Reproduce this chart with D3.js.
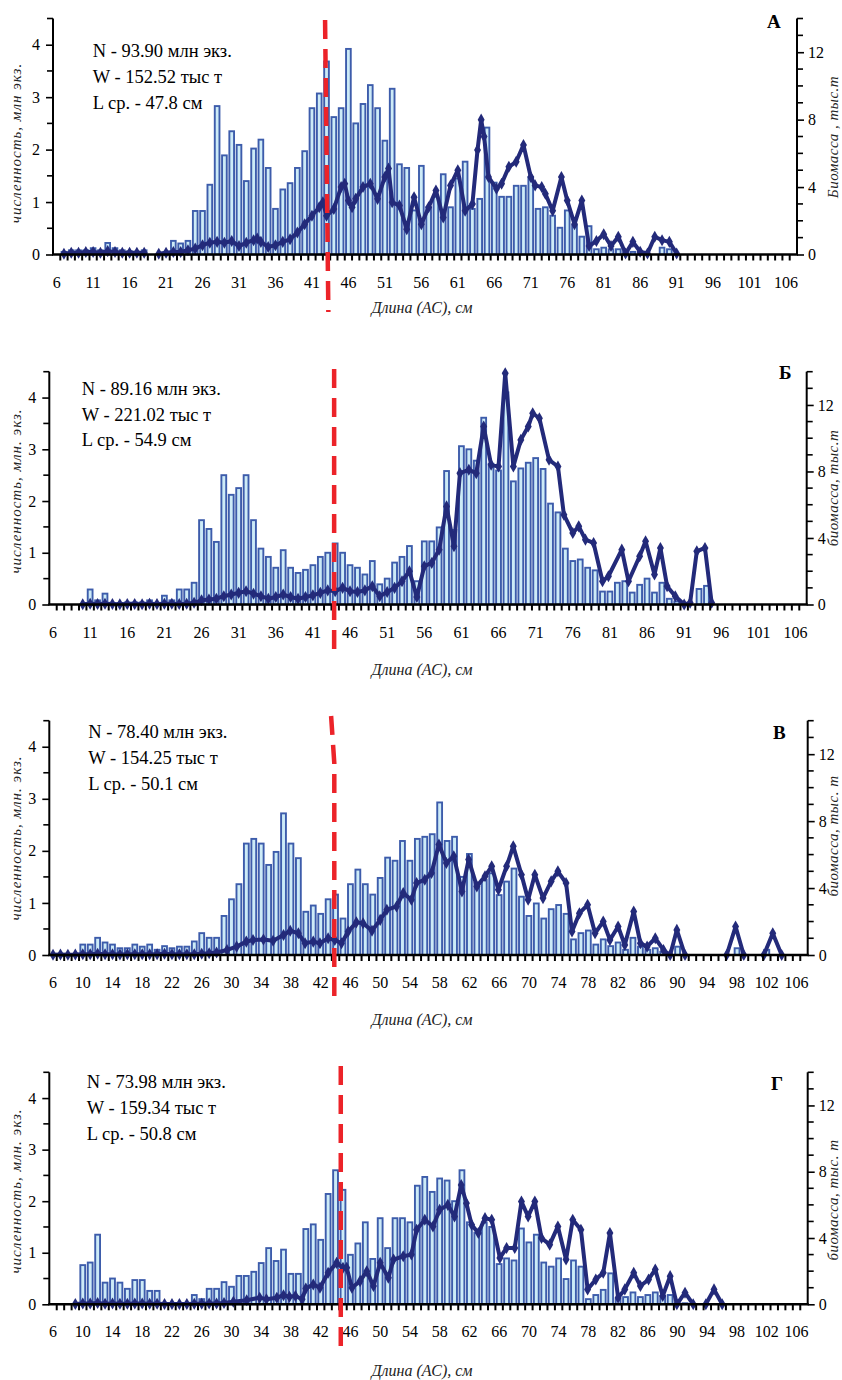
<!DOCTYPE html>
<html><head><meta charset="utf-8">
<script src="https://cdn.jsdelivr.net/npm/d3@7"></script>
<style>body{margin:0;background:#fff}svg{display:block}</style>
</head><body>
<svg id="c" width="842" height="1380"></svg>
<script>
// ---------- DATA ----------
const categories = [6,7,8,9,10,11,12,13,14,15,16,17,18,19,20,21,22,23,24,25,26,27,28,29,30,31,32,33,34,35,36,37,38,39,40,41,42,43,44,45,46,47,48,49,50,51,52,53,54,55,56,57,58,59,60,61,62,63,64,65,66,67,68,69,70,71,72,73,74,75,76,77,78,79,80,81,82,83,84,85,86,87,88,89,90,91,92,93,94,95,96,97,98,99,100,101,102,103,104,105,106,107];
const tickLabels5 = [6,11,16,21,26,31,36,41,46,51,56,61,66,71,76,81,86,91,96,101,106];
const tickLabels4 = [6,10,14,18,22,26,30,34,38,42,46,50,54,58,62,66,70,74,78,82,86,90,94,98,102,106];
const leftTicks = [0,1,2,3,4];
const leftMinor = [0.5,1.5,2.5,3.5,4.5];
const rightTicks = [0,4,8,12];
const rightMinor = [1,2,3,5,6,7,9,10,11,13,14];

const countA = [0,0.05,0.08,0.08,0.08,0.12,0.08,0.22,0.12,0.08,
 0.06,0.05,0.08,0,0,0.04,0.26,0.21,0.26,0.83,
 0.83,1.33,2.83,1.89,2.35,2.09,1.4,2.02,2.19,1.65,
 0.87,1.24,1.36,1.65,1.97,2.79,3.07,3.68,2.62,2.79,
 3.92,2.5,2.87,3.23,2.79,2.17,3.16,1.72,1.65,0.84,
 1.69,0.9,1.1,1.53,0.9,1.45,1.77,0.87,1.06,2.42,
 1.37,1.1,1.1,1.31,1.31,1.47,0.87,0.9,0.74,0.51,
 0.84,0.55,0.34,0.54,0.1,0.13,0.1,0.1,0.05,0.05,
 0.03,0,0,0.13,0.1,0,0,0,0,0,
 0,0,0,0,0,0,0,0,0,0,
 0,0];
const countB = [0,0,0,0,0,0.29,0.08,0.21,0.03,0.03,
 0.04,0.04,0.04,0.08,0.03,0.17,0.08,0.29,0.29,0.42,
 1.63,1.46,1.21,2.5,2.12,2.25,2.5,1.63,1.08,0.92,
 0.71,1.05,0.71,0.61,0.67,0.76,0.92,1.0,1.18,1.0,
 0.76,0.71,0.58,0.84,0.39,0.5,0.81,0.92,1.13,0.45,
 1.22,1.22,1.49,2.58,1.44,3.06,3.0,2.78,3.61,2.72,
 2.59,4.1,2.38,2.63,2.74,2.83,2.62,1.95,1.78,1.08,
 0.84,0.87,0.71,0.66,0.25,0.25,0.42,0.45,0.23,0.38,
 0.5,0.23,0.42,0.11,0.06,0.02,0,0.3,0.36,0,
 0,0,0,0,0,0,0,0,0,0,
 0,0];
const countC = [0,0,0,0,0.2,0.2,0.33,0.24,0.2,0.13,
 0.13,0.2,0.16,0.2,0.1,0.17,0.13,0.16,0.16,0.26,
 0.42,0.33,0.33,0.75,1.07,1.36,2.14,2.23,2.14,1.73,
 1.98,2.72,2.14,1.86,0.83,0.95,0.79,1.07,1.16,0.7,
 1.36,1.64,1.36,1.16,1.48,1.87,1.81,2.19,1.81,2.23,
 2.27,2.32,2.93,2.19,2.27,1.5,1.94,1.38,1.44,1.57,
 1.15,1.41,1.66,1.12,0.75,0.99,0.7,0.88,0.96,0.79,
 0.3,0.42,0.47,0.2,0.3,0.17,0.24,0.1,0.33,0.16,
 0.1,0.13,0.06,0,0.16,0,0,0,0,0,
 0,0,0.13,0,0,0,0.1,0,0,0,
 0,0];
const countD = [0,0,0,0,0.76,0.81,1.35,0.42,0.5,0.42,
 0.3,0.47,0.47,0.26,0.26,0.02,0.02,0.02,0.02,0.18,
 0.1,0.3,0.3,0.43,0.34,0.55,0.55,0.63,0.8,1.09,
 0.84,1.06,0.59,0.59,1.46,1.55,1.25,2.14,2.6,2.22,
 0.96,1.18,1.59,0.88,1.67,1.09,1.67,1.67,1.59,2.3,
 2.47,2.18,2.44,2.4,2.0,2.6,1.59,1.39,1.59,1.5,
 0.78,0.89,0.85,1.47,1.2,1.35,0.81,0.73,0.89,0.49,
 0.85,0.73,0.1,0.18,0.28,0.6,0.1,0.14,0.23,0.14,
 0.18,0.23,0.16,0.18,0.02,0.02,0,0,0,0,
 0,0,0,0,0,0,0,0,0,0,
 0,0];

// biomass: [length, thousand t]; null = gap
const biomassA = [[7,0.05],[8,0.1],[9,0.1],[10,0.15],[11,0.15],[12,0.1],[13,0.2],[14,0.15],[15,0.1],[16,0.1],[17,0.1],[18,0.1],[19,null],
 [20,0.05],[21,0.1],[22,0.15],[23,0.15],[24,0.25],[25,0.35],[26,0.55],[27,0.7],[28,0.75],[29,0.7],[30,0.8],[31,0.5],[32,0.7],[33,0.85],[33.5,0.95],[34,0.75],[35,0.45],[36,0.55],[37,0.75],[38,0.9],[39,1.3],[40,1.8],[41,2.3],[42,2.8],[42.5,3.1],[43,2.3],[44,2.7],[45,4.0],[45.5,4.2],[46,3.2],[46.5,2.8],[47,3.3],[48,4.0],[49,4.2],[50,3.3],[51,4.6],[51.5,5.1],[52,3.1],[53,2.9],[54,1.5],[55,3.4],[56,1.8],[57,2.8],[58,3.8],[59,2.2],[60,4.1],[61,5.0],[62,2.6],[63,3.0],[63.7,6.2],[64.2,8.0],[64.6,7.0],[65.2,4.6],[66.3,3.9],[67,4.2],[68,5.2],[69,5.5],[70,6.5],[71,4.6],[71.6,4.1],[72.5,4.0],[73,3.6],[74,2.6],[75.2,4.6],[76,3.2],[77,1.8],[78,3.2],[79,0.5],[80,0.8],[81,1.2],[82,0.5],[83,1.05],[84,0.06],[85,0.75],[86,0.16],[87,0.06],[88,1.05],[89,0.85],[90,0.75],[91,0.06]];
const biomassB = [[10,0.02],[11,0.05],[12,0.03],[13,0.05],[14,0.03],[15,0.02],[16,0.03],[17,0.03],[18,0.02],[19,0.05],[20,0.03],[21,0.05],[22,0.05],[23,0.03],[24,0.05],[25,0.1],[26,0.25],[27,0.3],[28,0.35],[29,0.5],[30,0.6],[31,0.7],[32,0.8],[33,0.65],[34,0.5],[35,0.35],[36,0.45],[37,0.6],[38,0.45],[39,0.35],[40,0.45],[41,0.55],[42,0.7],[43,0.85],[44,0.8],[45,1.0],[46,0.8],[47,0.75],[48,0.85],[49,1.1],[50,0.5],[51,0.75],[52,1.0],[53,1.4],[54,2.0],[55,0.45],[56,2.3],[57,2.5],[58,3.3],[59,5.9],[60,3.5],[60.8,7.9],[62,8.1],[63,7.9],[64,10.7],[65,8.4],[66,8.3],[66.9,13.9],[68,8.3],[69,9.9],[70,10.7],[70.6,11.5],[71.5,11.2],[72.8,8.7],[74,8.3],[74.8,5.4],[76,4.3],[76.8,4.7],[77.7,3.9],[78.8,3.7],[80,1.4],[80.8,1.7],[82.6,3.3],[83.5,1.4],[85,2.9],[85.8,3.8],[87,1.8],[87.8,3.4],[88.7,1.1],[89.8,0.5],[91,0],[91.8,0.1],[92.7,3.2],[93.8,3.4],[94.7,0.1]];
const biomassC = [[6,0.02],[7,0.03],[8,0.02],[9,0.03],[10,0.05],[11,0.05],[12,0.08],[13,0.05],[14,0.05],[15,0.03],[16,0.05],[17,0.05],[18,0.05],[19,0.05],[20,0.05],[21,0.08],[22,0.05],[23,0.05],[24,0.05],[25,0.05],[26,0.08],[27,0.1],[28,0.15],[29.4,0.3],[30.7,0.5],[32,0.8],[32.9,0.9],[34.3,0.93],[35.6,0.85],[37,1.19],[37.9,1.45],[39,1.3],[39.9,0.7],[41,0.8],[41.9,0.7],[43,1.0],[43.9,0.9],[44.8,0.7],[45.7,1.4],[46.8,1.95],[47.7,1.9],[48.9,1.45],[50,2.1],[50.9,2.7],[52.2,2.9],[53.1,3.7],[54.2,3.3],[54.9,4.3],[56,4.5],[56.9,4.9],[57.9,6.6],[58.9,5.5],[59.9,5.9],[61,3.8],[61.9,5.7],[63,4.1],[64.1,4.7],[65,5.3],[65.9,3.9],[67,5.3],[67.9,6.5],[69,4.8],[69.9,3.3],[70.8,4.8],[71.9,3.4],[73,4.4],[73.9,5.0],[75,4.3],[75.8,1.4],[76.8,2.5],[77.9,3.0],[78.9,1.3],[80,2.0],[80.9,0.9],[82,1.7],[82.9,0.6],[84.1,2.6],[85,0.7],[85.9,0.5],[87,1.0],[88.1,0.3],[89,0],[89.9,1.5],[91,0],[92,null],[96.6,0],[97.8,1.7],[98.9,0],[100,null],[101.6,0],[102.8,1.3],[104,0]];
const biomassD = [[9,0.02],[10,0.05],[11,0.05],[12,0.08],[13,0.03],[14,0.05],[15,0.03],[16,0.03],[17,0.05],[18,0.05],[19,0.03],[20,0.03],[21,0.02],[22,0.02],[23,0.02],[24,0.02],[25,0.03],[26,0.03],[27,0.05],[28,0.05],[29,0.08],[30.25,0.15],[32.05,0.25],[33.8,0.4],[34.7,0.3],[36.1,0.4],[37,0.55],[37.8,0.45],[38.6,0.5],[39.5,0.3],[40,0.95],[41,1.2],[41.9,1.0],[43,1.9],[44.15,2.5],[45,2.2],[45.5,2.2],[46.2,1.0],[47.3,1.4],[48.2,2.0],[49.1,1.1],[50,2.5],[51.1,1.6],[51.8,2.7],[53.1,2.9],[54.2,3.0],[54.9,4.5],[56,5.1],[57.1,4.7],[58,5.7],[59.1,6.0],[60,5.3],[60.9,7.2],[61.6,6.1],[62.3,4.8],[63.2,4.3],[64.1,5.2],[65,5.1],[66.1,2.8],[67,3.4],[68.1,3.4],[69,6.2],[69.9,5.3],[70.8,6.2],[71.7,4.0],[72.8,3.6],[73.9,4.7],[75,2.7],[75.9,5.1],[77,4.5],[77.9,0.9],[79,1.5],[80,1.9],[80.9,4.3],[82,0.4],[82.9,0.9],[84.1,1.9],[85,1.1],[86.1,1.5],[87,2.1],[88,0.5],[89,1.7],[89.9,0],[91,0.7],[92.1,0],[93,null],[93.8,0],[94.9,0.9],[96,0]];

const statsA = ["N - 93.90 млн экз.","W - 152.52 тыс т","L ср. - 47.8 см"];
const statsB = ["N - 89.16 млн экз.","W - 221.02 тыс т","L ср. - 54.9 см"];
const statsC = ["N - 78.40 млн экз.","W - 154.25 тыс т","L ср. - 50.1 см"];
const statsD = ["N - 73.98 млн экз.","W - 159.34 тыс т","L ср. - 50.8 см"];
const letters = ["А","Б","В","Г"];
const leftTitles = ["численность, млн экз.","численность, млн. экз.","численность, млн. экз.","численность, млн. экз."];
const rightTitles = ["Биомасса , тыс.т","биомасса, тыс.т","биомасса, тыс. т","биомасса, тыс. т"];
const xTitle = "Длина (АС), см";
// red reference line: [length at top, length at bottom] (+ optional kink)
const refA = [42.8, 43.25];
const refB = [43.86, 43.86];
const refC = [43.4, 43.83, 43.83];
const refD = [44.7, 44.7];

// ---------- LAYOUT ----------
const panels = [
 {counts:countA, bio:biomassA, stats:statsA, labels:tickLabels5, ref:refA,
  left:53, right:797, top:18.5, bottom:254.5, statX:92.7, statY:57.3, letterX:767, letterY:28,
  titleCY:143, rtitleCY:137, xTitleY:313, refY:[20,312]},
 {counts:countB, bio:biomassB, stats:statsB, labels:tickLabels5, ref:refB,
  left:49.3, right:806.7, top:371.7, bottom:604.5, statX:81.7, statY:395, letterX:779, letterY:379,
  titleCY:491, rtitleCY:488, xTitleY:675, refY:[369,657]},
 {counts:countC, bio:biomassC, stats:statsC, labels:tickLabels4, ref:refC,
  left:49.3, right:807.7, top:720.7, bottom:955, statX:88.3, statY:738.3, letterX:773, letterY:739,
  titleCY:838, rtitleCY:836, xTitleY:1025, refY:[716,763,1003]},
 {counts:countD, bio:biomassD, stats:statsD, labels:tickLabels4, ref:refD,
  left:49.3, right:807.7, top:1072.3, bottom:1304.3, statX:86.7, statY:1088.3, letterX:771, letterY:1090,
  titleCY:1191, rtitleCY:1200, xTitleY:1376, refY:[1066,1356]}
];

const FONT = "'Liberation Serif','Times New Roman',serif";
const BAR_FILL = "#cdebf7", BAR_STROKE = "#3d5cab", LINE = "#232a7a", RED = "#ec2329";
const svg = d3.select("#c");

panels.forEach((p, pi) => {
  const g = svg.append("g");
  const x = d3.scaleBand().domain(categories).range([p.left, p.right]).padding(0);
  const xl = d3.scaleLinear()
    .domain([categories[0] - 0.5, categories[categories.length - 1] + 0.5])
    .range([p.left, p.right]);
  const yL = d3.scaleLinear().domain([0, 4.5]).range([p.bottom, p.top]);
  const yR = d3.scaleLinear().domain([0, 14]).range([p.bottom, p.top]);
  const bw = x.bandwidth();

  // bars
  const barData = categories.map((c, i) => ({c, v: p.counts[i]})).filter(d => d.v > 0);
  g.append("g").selectAll("rect").data(barData).join("rect")
    .attr("x", d => x(d.c) + 1.3)
    .attr("width", bw - 2.6)
    .attr("y", d => yL(d.v))
    .attr("height", d => p.bottom - yL(d.v))
    .attr("fill", BAR_FILL)
    .attr("stroke", BAR_STROKE)
    .attr("stroke-width", 1.9);

  // biomass line
  const line = d3.line().defined(d => d[1] != null).x(d => xl(d[0])).y(d => yR(d[1]));
  g.append("path").datum(p.bio).attr("d", line)
    .attr("fill", "none").attr("stroke", LINE).attr("stroke-width", 4)
    .attr("stroke-linejoin", "round");
  const sym = d3.symbol().type(d3.symbolDiamond).size(42);
  g.append("g").selectAll("path").data(p.bio.filter(d => d[1] != null)).join("path")
    .attr("d", sym)
    .attr("transform", d => `translate(${xl(d[0])},${yR(d[1])})`)
    .attr("fill", LINE);

  // left axis
  const la = g.append("g").attr("transform", `translate(${p.left},0)`)
    .call(d3.axisLeft(yL).tickValues(leftTicks).tickSize(7).tickSizeOuter(0).tickPadding(6).tickFormat(d3.format("d")));
  la.select(".domain").remove();
  la.selectAll("text").attr("font-family", FONT).attr("font-size", 16).attr("fill", "#000");
  la.selectAll("line").attr("stroke-width", 1.6);
  g.append("g").selectAll("line").data(leftMinor).join("line")
    .attr("x1", p.left - 6).attr("x2", p.left).attr("y1", d => yL(d)).attr("y2", d => yL(d))
    .attr("stroke", "#000").attr("stroke-width", 1.6);
  g.append("line").attr("x1", p.left).attr("x2", p.left).attr("y1", p.top).attr("y2", p.bottom)
    .attr("stroke", "#000").attr("stroke-width", 2);

  // right axis
  const ra = g.append("g").attr("transform", `translate(${p.right},0)`)
    .call(d3.axisRight(yR).tickValues(rightTicks).tickSize(7).tickSizeOuter(0).tickPadding(4).tickFormat(d3.format("d")));
  ra.select(".domain").remove();
  ra.selectAll("text").attr("font-family", FONT).attr("font-size", 16).attr("fill", "#000");
  ra.selectAll("line").attr("stroke-width", 1.6);
  g.append("g").selectAll("line").data(rightMinor).join("line")
    .attr("x1", p.right).attr("x2", p.right + 6).attr("y1", d => yR(d)).attr("y2", d => yR(d))
    .attr("stroke", "#000").attr("stroke-width", 1.6);
  g.append("line").attr("x1", p.right).attr("x2", p.right).attr("y1", p.top).attr("y2", p.bottom)
    .attr("stroke", "#000").attr("stroke-width", 2);

  // x axis: ticks at category boundaries, labels at category centres
  g.append("g").selectAll("line").data(categories.slice(1)).join("line")
    .attr("x1", d => x(d)).attr("x2", d => x(d))
    .attr("y1", p.bottom).attr("y2", p.bottom + 6)
    .attr("stroke", "#000").attr("stroke-width", 2);
  g.append("line").attr("x1", p.left - 1).attr("x2", p.right + 1).attr("y1", p.bottom).attr("y2", p.bottom)
    .attr("stroke", "#000").attr("stroke-width", 2.4);
  g.append("g").selectAll("text").data(p.labels).join("text")
    .attr("x", d => x(d) + bw / 2).attr("y", p.bottom + 33)
    .attr("text-anchor", "middle").attr("font-family", FONT).attr("font-size", 16)
    .text(d => d);

  // red reference line
  const refPts = p.ref.map((len, i) => [xl(len), p.refY[i]]);
  g.append("path").attr("d", d3.line()(refPts))
    .attr("fill", "none").attr("stroke", RED).attr("stroke-width", 4.5)
    .attr("stroke-dasharray", "19,10");

  // stats text
  g.append("g").selectAll("text").data(p.stats).join("text")
    .attr("x", p.statX).attr("y", (d, i) => p.statY + i * 25.6)
    .attr("font-family", FONT).attr("font-size", 18.5).text(d => d);

  // panel letter
  g.append("text").attr("x", p.letterX).attr("y", p.letterY)
    .attr("font-family", FONT).attr("font-weight", "bold").attr("font-size", 19).text(letters[pi]);

  // axis titles
  g.append("text").attr("transform", `translate(21,${p.titleCY}) rotate(-90)`)
    .attr("text-anchor", "middle").attr("font-family", FONT).attr("font-style", "italic")
    .attr("font-size", 15).attr("letter-spacing", 1).attr("fill", "#222").text(leftTitles[pi]);
  g.append("text").attr("transform", `translate(838,${p.rtitleCY}) rotate(-90)`)
    .attr("text-anchor", "middle").attr("font-family", FONT).attr("font-style", "italic")
    .attr("font-size", 15).attr("letter-spacing", 0.5).attr("fill", "#222").text(rightTitles[pi]);
  g.append("text").attr("x", 422).attr("y", p.xTitleY)
    .attr("text-anchor", "middle").attr("font-family", FONT).attr("font-style", "italic")
    .attr("font-size", 16).attr("fill", "#222").text(xTitle);
});
</script>
</body></html>
